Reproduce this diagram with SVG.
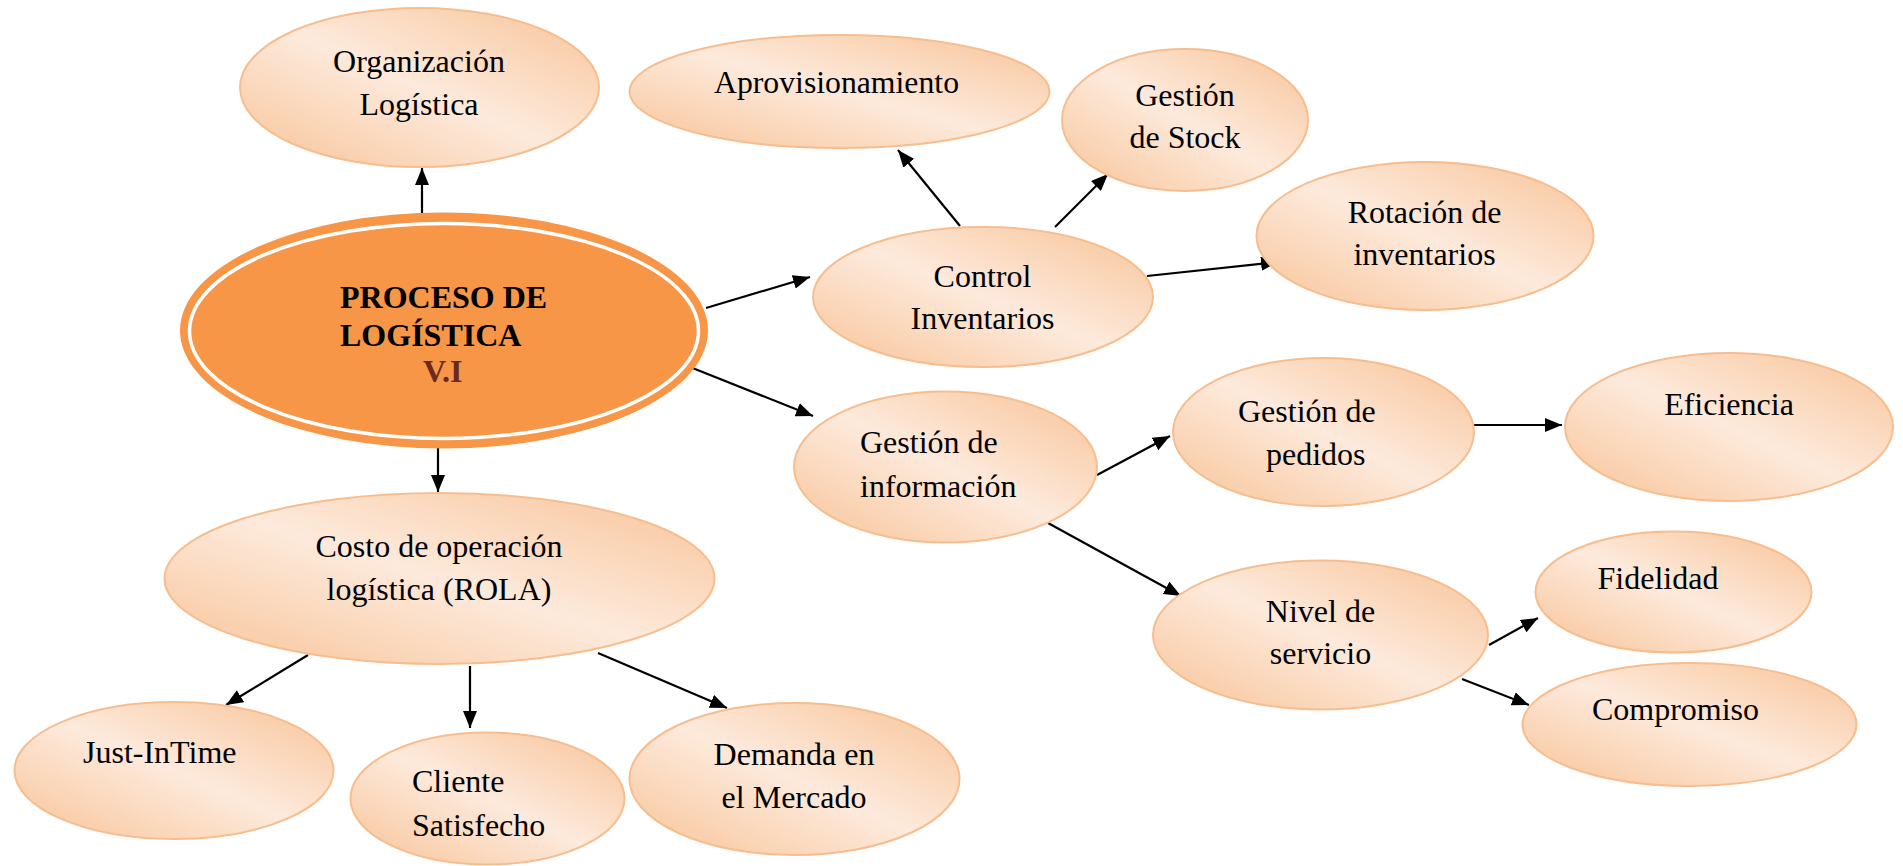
<svg xmlns="http://www.w3.org/2000/svg" width="1903" height="866" viewBox="0 0 1903 866">
  <style>
    .node { fill: url(#peach); stroke: #f7bd8e; stroke-width: 2; }
    .lbl { font-family: "Liberation Serif", "Times New Roman", serif; font-size: 32px; fill: #000; }
    .mid { text-anchor: middle; }
    .core { font-family: "Liberation Serif", "Times New Roman", serif; font-size: 32px; font-weight: bold; }
    .link { stroke: #000; stroke-width: 2.2; fill: none; marker-end: url(#tip); }
  </style>
  <defs>
    <linearGradient id="peach" x1="0" y1="1" x2="1" y2="0">
      <stop offset="0" stop-color="#f8c397"/>
      <stop offset="0.5" stop-color="#fdeadc"/>
      <stop offset="1" stop-color="#f8c397"/>
    </linearGradient>
    <marker id="tip" markerUnits="userSpaceOnUse" markerWidth="18" markerHeight="14" refX="17" refY="7" orient="auto">
      <path d="M0,0 L17,7 L0,14 z" fill="#000"/>
    </marker>
  </defs>

  <rect width="1903" height="866" fill="#fff"/>

  <!-- connectors -->
  <g id="connectors">
    <line class="link" x1="422" y1="216" x2="422" y2="168"/>
    <line class="link" x1="706" y1="308" x2="810" y2="277"/>
    <line class="link" x1="690" y1="367" x2="813" y2="416"/>
    <line class="link" x1="438" y1="446" x2="438" y2="492"/>
    <line class="link" x1="960" y1="226" x2="898" y2="150"/>
    <line class="link" x1="1055" y1="227" x2="1108" y2="174"/>
    <line class="link" x1="1147" y1="276" x2="1278" y2="262"/>
    <line class="link" x1="1097" y1="475" x2="1170" y2="436"/>
    <line class="link" x1="1048" y1="523" x2="1181" y2="596"/>
    <line class="link" x1="1474" y1="425" x2="1562" y2="425"/>
    <line class="link" x1="1489" y1="645" x2="1538" y2="618"/>
    <line class="link" x1="1462" y1="679" x2="1529" y2="705"/>
    <line class="link" x1="308" y1="655" x2="226" y2="705"/>
    <line class="link" x1="470" y1="666" x2="470" y2="728"/>
    <line class="link" x1="598" y1="653" x2="727" y2="708"/>
  </g>

  <!-- central node -->
  <g id="proceso">
    <ellipse cx="444" cy="330.5" rx="264" ry="118" fill="#f79646"/>
    <ellipse cx="444" cy="331" rx="254.5" ry="107.5" fill="none" stroke="#fff" stroke-width="3.5"/>
    <text class="core" x="340" y="308" fill="#000">PROCESO DE</text>
    <text class="core" x="340" y="346" fill="#000">LOGÍSTICA</text>
    <text class="core" x="423" y="382" fill="#6a2a22">V.I</text>
  </g>

  <g id="organizacion">
    <ellipse class="node" cx="419.5" cy="87.5" rx="179.5" ry="79.5"/>
    <text class="lbl mid" x="419" y="72">Organización</text>
    <text class="lbl mid" x="419" y="115">Logística</text>
  </g>

  <g id="aprovisionamiento">
    <ellipse class="node" cx="839.5" cy="91.5" rx="210" ry="56.5"/>
    <text class="lbl" x="714" y="92.5" textLength="245" lengthAdjust="spacingAndGlyphs">Aprovisionamiento</text>
  </g>

  <g id="gestion-stock">
    <ellipse class="node" cx="1185" cy="120" rx="123" ry="71"/>
    <text class="lbl mid" x="1185" y="106">Gestión</text>
    <text class="lbl mid" x="1185" y="148">de Stock</text>
  </g>

  <g id="rotacion">
    <ellipse class="node" cx="1425" cy="236" rx="168.5" ry="74"/>
    <text class="lbl mid" x="1424.5" y="223">Rotación de</text>
    <text class="lbl mid" x="1424.5" y="265">inventarios</text>
  </g>

  <g id="control">
    <ellipse class="node" cx="983" cy="297" rx="170" ry="70"/>
    <text class="lbl mid" x="982.5" y="287">Control</text>
    <text class="lbl mid" x="982.5" y="329">Inventarios</text>
  </g>

  <g id="gestion-informacion">
    <ellipse class="node" cx="945.5" cy="467" rx="151.5" ry="75.5"/>
    <text class="lbl" x="860" y="453">Gestión de</text>
    <text class="lbl" x="860" y="497">información</text>
  </g>

  <g id="gestion-pedidos">
    <ellipse class="node" cx="1323.5" cy="432" rx="150.5" ry="74"/>
    <text class="lbl" x="1238" y="422">Gestión de</text>
    <text class="lbl" x="1266" y="465">pedidos</text>
  </g>

  <g id="eficiencia">
    <ellipse class="node" cx="1729" cy="427" rx="164" ry="74"/>
    <text class="lbl mid" x="1729" y="415">Eficiencia</text>
  </g>

  <g id="nivel-servicio">
    <ellipse class="node" cx="1320.5" cy="635" rx="167.5" ry="74.5"/>
    <text class="lbl mid" x="1320.5" y="622">Nivel de</text>
    <text class="lbl mid" x="1320.5" y="664">servicio</text>
  </g>

  <g id="fidelidad">
    <ellipse class="node" cx="1673.5" cy="592" rx="138" ry="60.5"/>
    <text class="lbl mid" x="1658" y="589">Fidelidad</text>
  </g>

  <g id="compromiso">
    <ellipse class="node" cx="1689.5" cy="724.5" rx="167" ry="61.5"/>
    <text class="lbl mid" x="1675.5" y="720">Compromiso</text>
  </g>

  <g id="costo">
    <ellipse class="node" cx="439.5" cy="578.5" rx="275" ry="85.5"/>
    <text class="lbl mid" x="439" y="557">Costo de operación</text>
    <text class="lbl mid" x="439" y="600">logística (ROLA)</text>
  </g>

  <g id="just-in-time">
    <ellipse class="node" cx="174" cy="770.5" rx="159.5" ry="68.5"/>
    <text class="lbl" x="83" y="763">Just-InTime</text>
  </g>

  <g id="cliente">
    <ellipse class="node" cx="487.5" cy="798.5" rx="137" ry="66"/>
    <text class="lbl" x="412" y="792">Cliente</text>
    <text class="lbl" x="412" y="836">Satisfecho</text>
  </g>

  <g id="demanda">
    <ellipse class="node" cx="794.5" cy="779" rx="165" ry="76"/>
    <text class="lbl mid" x="794" y="765">Demanda en</text>
    <text class="lbl mid" x="794" y="808">el Mercado</text>
  </g>
</svg>
